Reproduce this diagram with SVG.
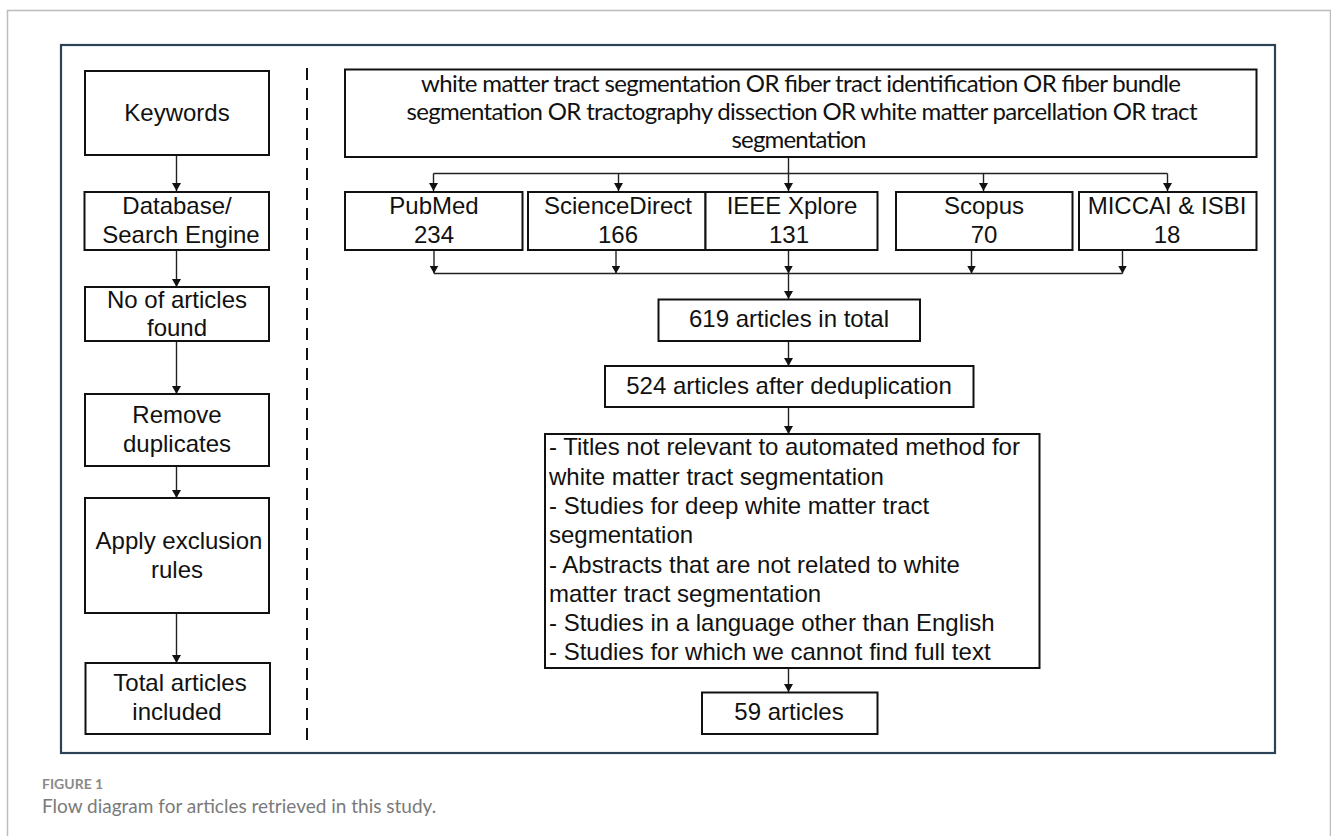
<svg xmlns="http://www.w3.org/2000/svg" width="1331" height="836" viewBox="0 0 1331 836">
<style>
.box{fill:#fff;stroke:#111;stroke-width:2}
.t{font-family:"Liberation Sans",Arial,sans-serif;font-size:24px;fill:#111;text-anchor:middle}
.tl{font-family:"Liberation Sans",Arial,sans-serif;font-size:24px;fill:#111}
.q{font-family:Lato,"Open Sans",sans-serif;font-size:24px;fill:#111;text-anchor:middle}
.c{fill:none;stroke:#222;stroke-width:1.4}
.cap1{font-family:Lato,"Open Sans",sans-serif;font-size:14px;font-weight:bold;fill:#8a8a8a}
.cap2{font-family:Lato,"Open Sans",sans-serif;font-size:19px;fill:#7a7a7a}
</style>
<defs>
<marker id="ah" markerWidth="8" markerHeight="9" refX="8" refY="4.5" orient="auto" markerUnits="userSpaceOnUse">
<path d="M0,0 L8,4.5 L0,9 Z" fill="#111"/>
</marker>
</defs>
<rect x="0" y="0" width="1331" height="836" fill="#fff"/>
<path d="M7.5,836 V10.5 H1330.5 V836" fill="none" stroke="#bcbcbc" stroke-width="1.5"/>
<rect x="61" y="45" width="1214" height="708" fill="none" stroke="#2b4257" stroke-width="2.2"/>
<line x1="307" y1="68" x2="307" y2="743" stroke="#111" stroke-width="2" stroke-dasharray="12,8"/>

<g id="connectors">
<path class="c" d="M176.5,155 V191" marker-end="url(#ah)"/>
<path class="c" d="M176.5,250 V287" marker-end="url(#ah)"/>
<path class="c" d="M176.5,341 V394" marker-end="url(#ah)"/>
<path class="c" d="M176.5,466 V498" marker-end="url(#ah)"/>
<path class="c" d="M176.5,613 V663" marker-end="url(#ah)"/>

<path class="c" d="M788.5,157 V173.5"/>
<path class="c" d="M433.5,173.5 H1167.5"/>
<path class="c" d="M433.5,173.5 V191" marker-end="url(#ah)"/>
<path class="c" d="M618.5,173.5 V191" marker-end="url(#ah)"/>
<path class="c" d="M788.5,173.5 V191" marker-end="url(#ah)"/>
<path class="c" d="M983.5,173.5 V191" marker-end="url(#ah)"/>
<path class="c" d="M1167.5,173.5 V191" marker-end="url(#ah)"/>

<path class="c" d="M434,250 V273.5" marker-end="url(#ah)"/>
<path class="c" d="M616,250 V273.5" marker-end="url(#ah)"/>
<path class="c" d="M788.5,250 V273.5" marker-end="url(#ah)"/>
<path class="c" d="M971.5,250 V273.5" marker-end="url(#ah)"/>
<path class="c" d="M1122.5,250 V273.5" marker-end="url(#ah)"/>
<path class="c" d="M434,273.5 H1122.5"/>
<path class="c" d="M788.5,273.5 V299" marker-end="url(#ah)"/>
<path class="c" d="M788.5,341 V366" marker-end="url(#ah)"/>
<path class="c" d="M788.5,407 V434" marker-end="url(#ah)"/>
<path class="c" d="M788.5,668 V692" marker-end="url(#ah)"/>
</g>

<g id="keywords">
<rect class="box" x="85" y="71" width="184" height="84"/>
<text class="t" x="177" y="121">Keywords</text>
</g>
<g id="database">
<rect class="box" x="84.5" y="192" width="184.5" height="58"/>
<text class="t" x="177" y="214">Database/</text>
<text class="t" x="181" y="243">Search Engine</text>
</g>
<g id="noarticles">
<rect class="box" x="85" y="287" width="184" height="54"/>
<text class="t" x="177" y="308">No of articles</text>
<text class="t" x="177" y="336">found</text>
</g>
<g id="remove">
<rect class="box" x="85" y="394" width="184" height="72"/>
<text class="t" x="177" y="423">Remove</text>
<text class="t" x="177" y="452">duplicates</text>
</g>
<g id="apply">
<rect class="box" x="85" y="498" width="184" height="115"/>
<text class="t" x="179" y="549">Apply exclusion</text>
<text class="t" x="177" y="578">rules</text>
</g>
<g id="total">
<rect class="box" x="85.5" y="663" width="184.5" height="71"/>
<text class="t" x="180" y="691">Total articles</text>
<text class="t" x="177" y="720">included</text>
</g>

<g id="query">
<rect class="box" x="345" y="69.5" width="911.5" height="87.5"/>
<text class="q" x="801" y="92" textLength="760">white matter tract segmentation OR fiber tract identification OR fiber bundle</text>
<text class="q" x="802" y="120" textLength="791">segmentation OR tractography dissection OR white matter parcellation OR tract</text>
<text class="q" x="799" y="148" textLength="135">segmentation</text>
</g>

<g id="pubmed">
<rect class="box" x="345" y="192" width="177.5" height="58"/>
<text class="t" x="434" y="214">PubMed</text>
<text class="t" x="434" y="243">234</text>
</g>
<g id="sciencedirect">
<rect class="box" x="528" y="192" width="177.5" height="58"/>
<text class="t" x="618" y="214">ScienceDirect</text>
<text class="t" x="618" y="243">166</text>
</g>
<g id="ieee">
<rect class="box" x="705.5" y="192" width="172" height="58"/>
<text class="t" x="792" y="214">IEEE Xplore</text>
<text class="t" x="789" y="243">131</text>
</g>
<g id="scopus">
<rect class="box" x="896" y="192" width="176.5" height="58"/>
<text class="t" x="984" y="214">Scopus</text>
<text class="t" x="984" y="243">70</text>
</g>
<g id="miccai">
<rect class="box" x="1079" y="192" width="177.5" height="58"/>
<text class="t" x="1167" y="214">MICCAI &amp; ISBI</text>
<text class="t" x="1167" y="243">18</text>
</g>

<g id="total619">
<rect class="box" x="658.5" y="299.5" width="261.5" height="41.5"/>
<text class="t" x="789" y="327">619 articles in total</text>
</g>
<g id="dedup524">
<rect class="box" x="605" y="366" width="368.5" height="41"/>
<text class="t" x="789" y="394">524 articles after deduplication</text>
</g>
<g id="exclusion">
<rect class="box" x="545" y="434" width="494.5" height="234"/>
<text class="tl" x="549" y="455">- Titles not relevant to automated method for</text>
<text class="tl" x="549" y="485">white matter tract segmentation</text>
<text class="tl" x="549" y="514">- Studies for deep white matter tract</text>
<text class="tl" x="549" y="543">segmentation</text>
<text class="tl" x="549" y="573">- Abstracts that are not related to white</text>
<text class="tl" x="549" y="602">matter tract segmentation</text>
<text class="tl" x="549" y="631">- Studies in a language other than English</text>
<text class="tl" x="549" y="660">- Studies for which we cannot find full text</text>
</g>
<g id="final59">
<rect class="box" x="702" y="692.5" width="175.5" height="41.5"/>
<text class="t" x="789" y="720">59 articles</text>
</g>

<text class="cap1" x="42" y="789">FIGURE 1</text>
<text class="cap2" x="42" y="813">Flow diagram for articles retrieved in this study.</text>
</svg>
